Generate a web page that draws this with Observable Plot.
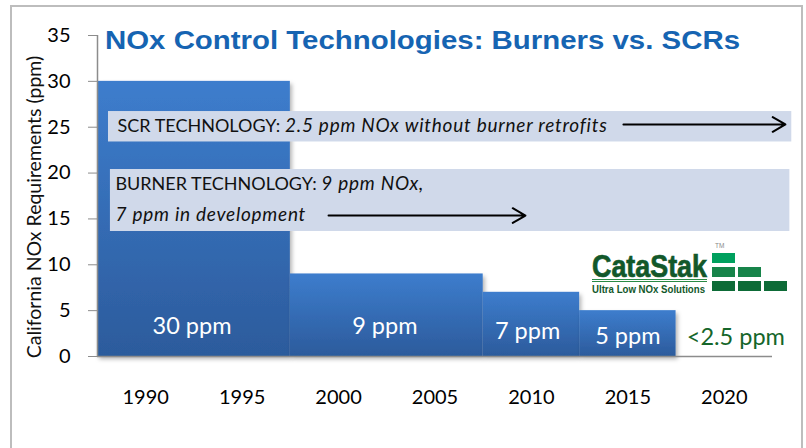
<!DOCTYPE html>
<html>
<head>
<meta charset="utf-8">
<script src="https://cdn.jsdelivr.net/npm/d3@7"></script>
<script src="https://cdn.jsdelivr.net/npm/@observablehq/plot@0.6"></script>
<style>
html,body{margin:0;padding:0;background:#fff;}
#wrap{position:relative;width:806px;height:448px;overflow:hidden;font-family:Lato,"Open Sans",sans-serif;}
#frame{position:absolute;left:10px;top:5px;width:793px;height:470px;border:2px solid #bdbdbd;box-sizing:border-box;}
#chart{position:absolute;left:0;top:0;}
#overlay{position:absolute;left:0;top:0;pointer-events:none;}
</style>
</head>
<body>
<div id="wrap">
  <div id="frame"></div>
  <div id="chart"></div>
  <svg id="overlay" width="806" height="448"></svg>
</div>
<script>
// ---- data ----
const periodStart = [1987.5, 1997.5, 2007.5, 2012.5];
const periodEnd = [1997.5, 2007.5, 2012.5, 2017.5];
const limitPpm = [30, 9, 7, 5];
const limitLabels = ["30 ppm", "9 ppm", "7 ppm", "5 ppm", "<2.5 ppm"];
const labelYear = [1992.4, 2002.4, 2009.8, 2015, 2020.6];
const labelPpm = [2.4, 2.5, 1.95, 1.4, 1.3];
const xTicks = [1990, 1995, 2000, 2005, 2010, 2015, 2020];
const yTicks = [0, 5, 10, 15, 20, 25, 30, 35];
const xDomain = [1987.5, 2022.5];
const yDomain = [0, 35];
const titleText = "NOx Control Technologies: Burners vs. SCRs";
const yLabel = "California NOx Requirements (ppm)";
const noteLines = ["SCR TECHNOLOGY: 2.5 ppm NOx without burner retrofits", "BURNER TECHNOLOGY: 9 ppm NOx,", "7 ppm in development"];
const noteYear = [1988.54, 1988.43, 1988.43];
const notePpm = [24.46, 18.1, 14.72];
const noteBoxX1 = [1988.07, 1988.17];
const noteBoxX2 = [2023.5, 2023.4];
const noteBoxY1 = [23.39, 13.63];
const noteBoxY2 = [26.71, 20.39];
const arrowX1 = [2014.77, 1999.48];
const arrowX2 = [2023.17, 2009.69];
const arrowY = [25.3, 15.37];

const bars = limitPpm.map((v, i) => ({x1: periodStart[i], x2: periodEnd[i], y: v}));
const labels = limitLabels.map((t, i) => ({t, x: labelYear[i], y: labelPpm[i]}));
const notes = noteLines.map((t, i) => ({t, x: noteYear[i], y: notePpm[i]}));
const boxes = noteBoxX1.map((x1, i) => ({x1, x2: noteBoxX2[i], y1: noteBoxY1[i], y2: noteBoxY2[i]}));
const arrows = arrowX1.map((x1, i) => ({x1, x2: arrowX2[i], y: arrowY[i]}));

const chart = Plot.plot({
  width: 806, height: 448,
  marginTop: 35, marginBottom: 92, marginLeft: 97, marginRight: 34,
  style: {fontFamily: "Lato, 'Open Sans', sans-serif", fontSize: "20px", background: "transparent", overflow: "visible"},
  x: {domain: xDomain, axis: null},
  y: {domain: yDomain, axis: null},
  marks: [
    Plot.rect(bars, {x1: "x1", x2: "x2", y1: 0, y2: "y", fill: "url(#barGrad)", ariaDescription: "bars"}),
    Plot.ruleY([0], {stroke: "#8c8c8c", strokeWidth: 1.5}),
    Plot.ruleX([xDomain[0]], {stroke: "#8c8c8c", strokeWidth: 1.5}),
    Plot.axisY(yTicks, {tickSize: 9, tickPadding: 18, fontSize: 20, stroke: "#8c8c8c", label: null}),
    Plot.axisX(xTicks, {tickSize: 0, tickPadding: 33, fontSize: 20, tickFormat: d => String(d), label: null}),
    Plot.text([yLabel], {frameAnchor: "left", textAnchor: "middle", rotate: -90, dx: -63, dy: 11, fontSize: 19.5, fill: "#111"}),
    Plot.rect(boxes, {x1: "x1", x2: "x2", y1: "y1", y2: "y2", fill: "#d0d9ea"}),
    Plot.text(notes, {x: "x", y: "y", text: "t", textAnchor: "start", lineAnchor: "bottom", fontSize: 18, fill: "#111", ariaDescription: "note"}),
    Plot.arrow(arrows, {x1: "x1", x2: "x2", y1: "y", y2: "y", stroke: "black", strokeWidth: 2, headLength: 11, bend: 0}),
    Plot.text(labels.slice(0, 4), {x: "x", y: "y", text: "t", lineAnchor: "bottom", fontSize: 23.5, fill: "white"}),
    Plot.text(labels.slice(4), {x: "x", y: "y", text: "t", lineAnchor: "bottom", fontSize: 23.5, fill: "#15662a"})
  ]
});
document.getElementById("chart").appendChild(chart);

// gradient + shadow defs
const svg = d3.select(chart.tagName.toLowerCase() === "svg" ? chart : chart.querySelector("svg"));
const defs = svg.insert("defs", ":first-child");
const g = defs.append("linearGradient").attr("id", "barGrad").attr("x1", 0).attr("y1", 0).attr("x2", 0).attr("y2", 1);
g.append("stop").attr("offset", "0%").attr("stop-color", "#3d7dcd");
g.append("stop").attr("offset", "100%").attr("stop-color", "#2c5b9c");
const f = defs.append("filter").attr("id", "barShadow").attr("x", "-10%").attr("y", "-10%").attr("width", "130%").attr("height", "130%");
f.append("feDropShadow").attr("dx", 2).attr("dy", 3).attr("stdDeviation", 2).attr("flood-color", "#000").attr("flood-opacity", 0.3);
svg.selectAll('g[aria-description="bars"] rect').attr("filter", "url(#barShadow)");

// mixed normal / italic note text
svg.selectAll('g[aria-description="note"] text').each(function () {
  const s = this.textContent;
  const k = s.indexOf(": ");
  const t = d3.select(this);
  t.text(null);
  const italic = sel => sel.attr("font-style", "italic").attr("font-size", 19).attr("letter-spacing", 0.75);
  if (k >= 0) {
    t.append("tspan").text(s.slice(0, k + 2));
    t.append("tspan").call(italic).text(s.slice(k + 2));
  } else {
    t.append("tspan").call(italic).text(s);
  }
});

// title and logo overlay
const ov = d3.select("#overlay");
ov.append("text").attr("x", 105).attr("y", 49)
  .attr("font-family", "'Liberation Sans', Arial, sans-serif").attr("font-weight", "bold").attr("font-size", 26)
  .attr("fill", "#1664b2").attr("textLength", 635).attr("lengthAdjust", "spacingAndGlyphs").text(titleText);

const logo = ov.append("g");
logo.append("text").attr("x", 592).attr("y", 276.5)
  .attr("font-family", "'Liberation Sans Narrow', 'Liberation Sans', Arial, sans-serif").attr("font-weight", "bold").attr("font-size", 32)
  .attr("fill", "#12582a").attr("stroke", "#12582a").attr("stroke-width", 0.7)
  .attr("textLength", 115).attr("lengthAdjust", "spacingAndGlyphs").text("CataStak");
logo.append("line").attr("x1", 592).attr("x2", 707).attr("y1", 279.5).attr("y2", 279.5).attr("stroke", "#2a8a45").attr("stroke-width", 1);
logo.append("line").attr("x1", 592).attr("x2", 707).attr("y1", 281.5).attr("y2", 281.5).attr("stroke", "#2a8a45").attr("stroke-width", 1);
logo.append("text").attr("x", 592).attr("y", 292.5)
  .attr("font-family", "'Liberation Sans Narrow', 'Liberation Sans', Arial, sans-serif").attr("font-weight", "bold").attr("font-size", 10)
  .attr("fill", "#12582a").attr("textLength", 113).attr("lengthAdjust", "spacingAndGlyphs").text("Ultra Low NOx Solutions");
logo.append("text").attr("x", 715).attr("y", 247.5).attr("font-family", "'Liberation Sans', Arial, sans-serif")
  .attr("font-size", 6.5).attr("fill", "#8a8a8a").text("TM");
const blocks = [
  [712, 253, "#00a05e"],
  [712, 267, "#17844a"], [738, 267, "#17844a"],
  [712, 281, "#0d6b37"], [738, 281, "#0d6b37"], [764, 281, "#0d6b37"]
];
blocks.forEach(([x, y, c]) => logo.append("rect").attr("x", x).attr("y", y).attr("width", 23).attr("height", 10).attr("fill", c));
</script>
</body>
</html>
